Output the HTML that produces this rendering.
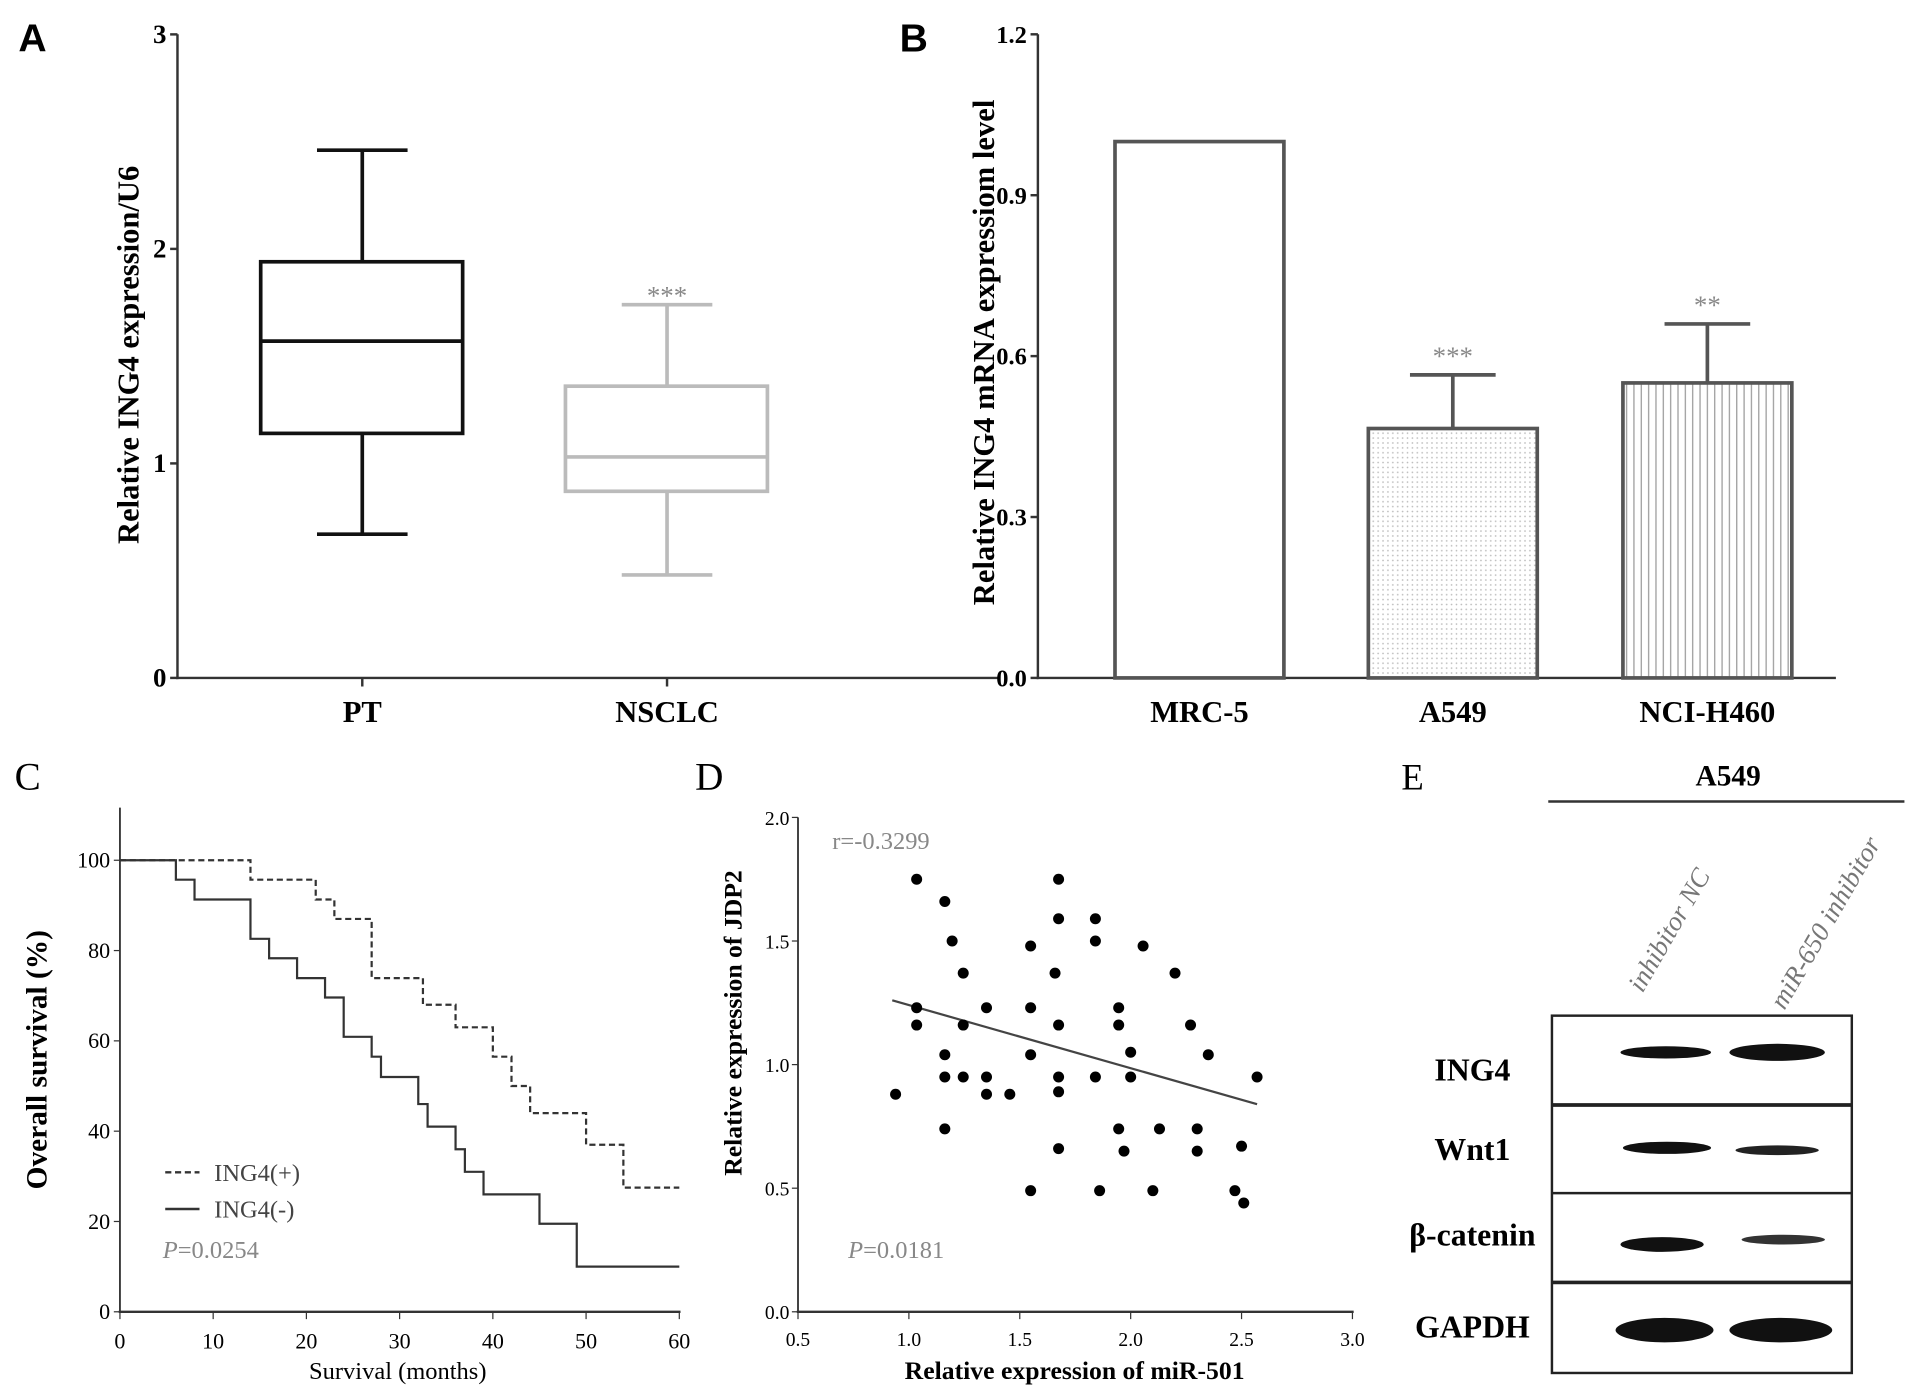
<!DOCTYPE html>
<html><head><meta charset="utf-8"><style>
html,body{margin:0;padding:0;background:#fff;}
svg{display:block;font-family:"Liberation Serif",serif;}
</style></head><body>
<svg id="fig" width="1913" height="1395" viewBox="0 0 1563 1140" preserveAspectRatio="none" xmlns="http://www.w3.org/2000/svg">
<defs>
<pattern id="dots" width="4" height="4" patternUnits="userSpaceOnUse"><rect width="4" height="4" fill="#fff"/><circle cx="2" cy="2" r="0.7" fill="#bbb"/></pattern>
<pattern id="vlines" width="6" height="6" patternUnits="userSpaceOnUse"><rect width="6" height="6" fill="#fff"/><line x1="3" y1="0" x2="3" y2="6" stroke="#999" stroke-width="1"/></pattern>
</defs>
<g id="pA"></g>
<g id="pB"></g>
<g id="pC"></g>
<g id="pD"></g>
<g id="pE">
  <text x="1145" y="645" font-size="30">E</text>
  <text x="1412" y="642" font-size="24" text-anchor="middle" font-weight="bold">A549</text>
  <line x1="1265" y1="655" x2="1556" y2="655" stroke="#333" stroke-width="2"/>
  <text transform="translate(1342,812) rotate(-60)" font-size="22" fill="#777" font-style="italic">inhibitor NC</text>
  <text transform="translate(1458,826) rotate(-60)" font-size="22" fill="#777" font-style="italic">miR-650 inhibitor</text>
  <rect x="1268" y="830" width="245" height="292" fill="#fff" stroke="#222" stroke-width="2"/>
  <line x1="1268" y1="903" x2="1513" y2="903" stroke="#222" stroke-width="3"/>
  <line x1="1268" y1="975" x2="1513" y2="975" stroke="#222" stroke-width="2"/>
  <line x1="1268" y1="1048" x2="1513" y2="1048" stroke="#222" stroke-width="3"/>
  <text x="1203" y="883" font-size="26" font-weight="bold" text-anchor="middle">ING4</text>
  <text x="1203" y="948" font-size="26" font-weight="bold" text-anchor="middle">Wnt1</text>
  <text x="1203" y="1018" font-size="26" font-weight="bold" text-anchor="middle">β-catenin</text>
  <text x="1203" y="1093" font-size="26" font-weight="bold" text-anchor="middle">GAPDH</text>
  <ellipse cx="1361" cy="860" rx="37" ry="5" fill="#111"/>
  <ellipse cx="1452" cy="860" rx="39" ry="7" fill="#111"/>
  <ellipse cx="1362" cy="938" rx="36" ry="5" fill="#111"/>
  <ellipse cx="1452" cy="940" rx="34" ry="4" fill="#222"/>
  <ellipse cx="1358" cy="1017" rx="34" ry="6" fill="#111"/>
  <ellipse cx="1457" cy="1013" rx="34" ry="4" fill="#333"/>
  <ellipse cx="1360" cy="1087" rx="40" ry="10" fill="#111"/>
  <ellipse cx="1455" cy="1087" rx="42" ry="10" fill="#111"/>
</g>
</svg>
<script>
const NS="http://www.w3.org/2000/svg";
function mk(p,t,a,txt){const e=document.createElementNS(NS,t);for(const k in a)e.setAttribute(k,a[k]);if(txt!==undefined)e.textContent=txt;p.appendChild(e);return e;}

// ---- Panel A data
const aCategories=["PT","NSCLC"];
const aMin=[0.67,0.48];
const aQ1=[1.14,0.87];
const aMedian=[1.57,1.03];
const aQ3=[1.94,1.36];
const aMax=[2.46,1.74];
const aTicks=[0,1,2,3];
// ---- Panel B data
const bCategories=["MRC-5","A549","NCI-H460"];
const bValues=[1.0,0.465,0.55];
const bErrors=[0,0.1,0.11];
const bStars=["","***","**"];
const bTicks=["0.0","0.3","0.6","0.9","1.2"];
// ---- Panel C data
const cTicksX=[0,10,20,30,40,50,60];
const cTicksY=[0,20,40,60,80,100];
const cPosT=[0,14,21,23,27,32.5,36,40,42,44,50,54,60];
const cPosS=[100,95.7,91.3,87,73.9,68,63,56.5,50,44,37,27.5,27.5];
const cNegT=[0,6,8,14,16,19,22,24,27,28,32,33,36,37,39,45,49,60];
const cNegS=[100,95.7,91.3,82.6,78.3,73.9,69.6,60.9,56.5,52,46,41,36,31,26,19.5,10,10];
// ---- Panel D data
const dX=[1.035,1.162,1.675,1.675,1.841,1.195,1.549,1.841,2.056,1.245,1.659,2.2,1.035,1.35,1.549,1.946,1.035,1.245,1.675,1.946,2.27,1.162,1.549,2.0,2.35,1.162,1.245,1.35,1.675,1.841,2.0,2.57,0.94,1.35,1.455,1.675,1.162,1.946,2.13,2.30,1.675,1.97,2.30,2.5,1.549,1.86,2.1,2.47,2.51];
const dY=[1.75,1.66,1.75,1.59,1.59,1.50,1.48,1.50,1.48,1.37,1.37,1.37,1.23,1.23,1.23,1.23,1.16,1.16,1.16,1.16,1.16,1.04,1.04,1.05,1.04,0.95,0.95,0.95,0.95,0.95,0.95,0.95,0.88,0.88,0.88,0.89,0.74,0.74,0.74,0.74,0.66,0.65,0.65,0.67,0.49,0.49,0.49,0.49,0.44];
const dFitX=[0.925,2.57];
const dFitY=[1.26,0.84];
const dTicksX=["0.5","1.0","1.5","2.0","2.5","3.0"];
const dTicksY=["0.0","0.5","1.0","1.5","2.0"];

// ===== Panel A
(function(){
const g=document.getElementById('pA');
const y=v=>554-v*175.3, xc=[296,545];
mk(g,'text',{x:15,y:42,'font-size':32,'font-weight':'bold','font-family':'Liberation Sans, sans-serif',},'A');
mk(g,'line',{x1:145,y1:28,x2:145,y2:555,stroke:'#333','stroke-width':2,});
mk(g,'line',{x1:144,y1:554,x2:815,y2:554,stroke:'#333','stroke-width':2,});
aTicks.forEach(t=>{mk(g,'line',{x1:139,y1:y(t),x2:145,y2:y(t),stroke:'#333','stroke-width':2});
 const e=mk(g,'text',{x:136,y:y(t)+7,'font-size':22,'font-weight':'bold','text-anchor':'end'},t);
 
 });
const yl=mk(g,'text',{transform:'translate(113,290) rotate(-90)','font-size':25,'font-weight':'bold','text-anchor':'middle'},'Relative ING4 expression/U6');


aCategories.forEach((c,i)=>{
 const col=i==0?'#111':'#bbb', x=xc[i];
 mk(g,'line',{x1:x,y1:554,x2:x,y2:561,stroke:'#333','stroke-width':2});
 const lb=mk(g,'text',{x:x,y:590,'font-size':25,'font-weight':'bold','text-anchor':'middle'},c);
 
 
 const bx=mk(g,'g',{stroke:col,'stroke-width':3,fill:'none'});
 
 
 mk(bx,'rect',{x:x-83,y:y(aQ3[i]),width:165,height:y(aQ1[i])-y(aQ3[i])});
 mk(bx,'line',{x1:x-83,x2:x+82,y1:y(aMedian[i]),y2:y(aMedian[i])});
 mk(bx,'line',{x1:x,x2:x,y1:y(aQ3[i]),y2:y(aMax[i])});
 mk(bx,'line',{x1:x,x2:x,y1:y(aQ1[i]),y2:y(aMin[i])});
 mk(bx,'line',{x1:x-37,x2:x+37,y1:y(aMax[i]),y2:y(aMax[i])});
 mk(bx,'line',{x1:x-37,x2:x+37,y1:y(aMin[i]),y2:y(aMin[i])});
});
const st=mk(g,'text',{x:545,y:y(aMax[1])+0,'font-size':22,'text-anchor':'middle',fill:'#888'},'***');


})();

// ===== Panel B
(function(){
const g=document.getElementById('pB');
const y=v=>554-v*438.3, xc=[980,1187,1395];
mk(g,'text',{x:735,y:42,'font-size':32,'font-weight':'bold','font-family':'Liberation Sans, sans-serif',},'B');
mk(g,'line',{x1:848,y1:28,x2:848,y2:555,stroke:'#333','stroke-width':2,});
mk(g,'line',{x1:847,y1:554,x2:1500,y2:554,stroke:'#333','stroke-width':2,});
bTicks.forEach(t=>{const v=parseFloat(t);mk(g,'line',{x1:842,y1:y(v),x2:848,y2:y(v),stroke:'#333','stroke-width':2});
 const e=mk(g,'text',{x:839,y:y(v)+7,'font-size':20,'font-weight':'bold','text-anchor':'end'},t);
 
 });
const yl=mk(g,'text',{transform:'translate(812,288) rotate(-90)','font-size':25,'font-weight':'bold','text-anchor':'middle'},'Relative ING4 mRNA expressiom level');


const fills=['#fff','url(#dots)','url(#vlines)'];
bCategories.forEach((c,i)=>{
 const x=xc[i];
 if(bErrors[i]>0){
  const er=mk(g,'g',{stroke:'#555','stroke-width':3});
  
  
  mk(er,'line',{x1:x,x2:x,y1:y(bValues[i]),y2:y(bValues[i]+bErrors[i])});
  mk(er,'line',{x1:x-35,x2:x+35,y1:y(bValues[i]+bErrors[i]),y2:y(bValues[i]+bErrors[i])});
  const s=mk(g,'text',{x:x,y:y(bValues[i]+bErrors[i])-8,'font-size':22,'text-anchor':'middle',fill:'#888'},bStars[i]);
  
  
 }
 const r=mk(g,'rect',{x:x-69,y:y(bValues[i]),width:138,height:554-y(bValues[i]),fill:fills[i],stroke:'#555','stroke-width':3});
 
 
 const lb=mk(g,'text',{x:x,y:590,'font-size':25,'font-weight':'bold','text-anchor':'middle'},c);
 
 
});
})();

// ===== Panel C
(function(){
const g=document.getElementById('pC');
const x=v=>98+v*7.617, y=v=>1072-v*3.69;
mk(g,'text',{x:12,y:645,'font-size':32,},'C');
mk(g,'line',{x1:98,y1:660,x2:98,y2:1073,stroke:'#333','stroke-width':1.5,});
mk(g,'line',{x1:97,y1:1072,x2:556,y2:1072,stroke:'#333','stroke-width':2,});
cTicksY.forEach(t=>{mk(g,'line',{x1:93,x2:98,y1:y(t),y2:y(t),stroke:'#333'});
 const e=mk(g,'text',{x:90,y:y(t)+6,'font-size':18,'text-anchor':'end'},t);
 
 });
cTicksX.forEach(t=>{mk(g,'line',{x1:x(t),x2:x(t),y1:1072,y2:1078,stroke:'#333'});
 const e=mk(g,'text',{x:x(t),y:1102,'font-size':18,'text-anchor':'middle'},t);
 
 });
const xl=mk(g,'text',{x:325,y:1127,'font-size':20,'text-anchor':'middle'},'Survival (months)');


const yl=mk(g,'text',{transform:'translate(38,866) rotate(-90)','font-size':24,'font-weight':'bold','text-anchor':'middle'},'Overall survival (%)');


function step(T,S){let d='M'+x(T[0])+','+y(S[0]);for(let i=1;i<T.length;i++){d+=' H'+x(T[i])+' V'+y(S[i]);}return d;}
const p1=mk(g,'path',{d:step(cPosT,cPosS),fill:'none',stroke:'#333','stroke-width':1.8,'stroke-dasharray':'5,3'});


const p2=mk(g,'path',{d:step(cNegT,cNegS),fill:'none',stroke:'#333','stroke-width':1.8});


mk(g,'line',{x1:135,x2:163,y1:958,y2:958,stroke:'#333','stroke-width':2,'stroke-dasharray':'5,3',});
mk(g,'text',{x:175,y:965,'font-size':20,fill:'#444',},'ING4(+)');
mk(g,'line',{x1:135,x2:163,y1:988,y2:988,stroke:'#333','stroke-width':2,});
mk(g,'text',{x:175,y:995,'font-size':20,fill:'#444',},'ING4(-)');
const pv=mk(g,'text',{x:133,y:1028,'font-size':20,fill:'#888'});


pv.innerHTML='<tspan font-style="italic">P</tspan>=0.0254';
})();

// ===== Panel D
(function(){
const g=document.getElementById('pD');
const x=v=>652+(v-0.5)*181.2, y=v=>1072-v*202;
mk(g,'text',{x:568,y:645,'font-size':32,},'D');
mk(g,'line',{x1:652,y1:668,x2:652,y2:1073,stroke:'#333','stroke-width':1.5,});
mk(g,'line',{x1:651,y1:1072,x2:1106,y2:1072,stroke:'#333','stroke-width':2,});
dTicksY.forEach(t=>{const v=parseFloat(t);mk(g,'line',{x1:647,x2:652,y1:y(v),y2:y(v),stroke:'#333'});
 const e=mk(g,'text',{x:645,y:y(v)+6,'font-size':16,'text-anchor':'end'},t);
 
 });
dTicksX.forEach(t=>{const v=parseFloat(t);mk(g,'line',{x1:x(v),x2:x(v),y1:1072,y2:1078,stroke:'#333'});
 const e=mk(g,'text',{x:x(v),y:1100,'font-size':16,'text-anchor':'middle'},t);
 
 });
const xl=mk(g,'text',{x:878,y:1127,'font-size':21,'font-weight':'bold','text-anchor':'middle'},'Relative expression of miR-501');


const yl=mk(g,'text',{transform:'translate(606,836) rotate(-90)','font-size':21,'font-weight':'bold','text-anchor':'middle'},'Relative expression of JDP2');


const fit=mk(g,'line',{x1:x(dFitX[0]),y1:y(dFitY[0]),x2:x(dFitX[1]),y2:y(dFitY[1]),stroke:'#444','stroke-width':1.8});


dX.forEach((v,i)=>{const c=mk(g,'circle',{cx:x(v),cy:y(dY[i]),r:4.5,fill:'#000'});
 
 });
mk(g,'text',{x:680,y:694,'font-size':20,fill:'#888',},'r=-0.3299');
const pv=mk(g,'text',{x:693,y:1028,'font-size':20,fill:'#888'});


pv.innerHTML='<tspan font-style="italic">P</tspan>=0.0181';
})();
</script>
</body></html>
